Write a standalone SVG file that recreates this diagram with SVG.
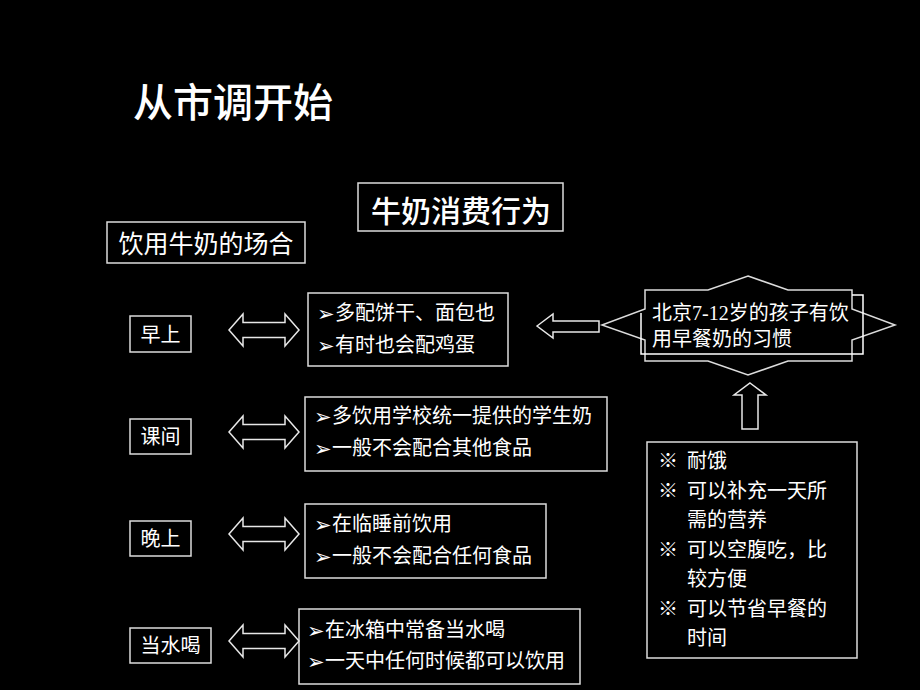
<svg xmlns="http://www.w3.org/2000/svg" width="920" height="690" viewBox="0 0 920 690">
<style>
.box{fill:none;stroke:#dcdcdc;stroke-width:1.5}
.arr{fill:none;stroke:#e8e8e8;stroke-width:1.5;stroke-linejoin:miter}
.t{fill:#ffffff;font-family:"Noto Sans CJK SC","Noto Sans",sans-serif;font-size:20px}
.tm{fill:#ffffff;font-family:"Liberation Serif","Noto Sans CJK SC",serif;font-size:20px}
.b{fill:#ffffff;font-family:"DejaVu Sans",sans-serif;font-size:21px}
</style>
<rect x="0" y="0" width="920" height="690" fill="#000000"/>
<g id="title"><text x="133" y="117" class="t" style="font-size:40px;font-weight:500">从市调开始</text></g>
<g id="header"><rect class="box" x="358" y="183" width="205" height="48"/><text x="461" y="222" class="t" text-anchor="middle" style="font-size:30px;font-weight:500">牛奶消费行为</text></g>
<g id="occasion"><rect class="box" x="107" y="222" width="198" height="41"/><text x="206" y="253" class="t" text-anchor="middle" style="font-size:25px">饮用牛奶的场合</text></g>

<g id="morning"><rect class="box" x="130" y="316" width="61" height="36"/><text x="160.5" y="342" class="t" text-anchor="middle">早上</text></g>
<g id="class"><rect class="box" x="130" y="419" width="61" height="35"/><text x="160.5" y="444" class="t" text-anchor="middle">课间</text></g>
<g id="evening"><rect class="box" x="130" y="521" width="61" height="35"/><text x="160.5" y="546" class="t" text-anchor="middle">晚上</text></g>
<g id="water"><rect class="box" x="130" y="628" width="81" height="35"/><text x="170.5" y="653" class="t" text-anchor="middle">当水喝</text></g>

<g id="morning-desc"><rect class="box" x="308" y="293" width="200" height="73"/>
<text x="317" y="321" class="b">➢</text><text x="335" y="320" class="t">多配饼干、面包也</text>
<text x="317" y="353" class="b">➢</text><text x="335" y="352" class="t">有时也会配鸡蛋</text></g>
<g id="class-desc"><rect class="box" x="305" y="397" width="302" height="74"/>
<text x="314" y="424" class="b">➢</text><text x="332" y="423" class="t">多饮用学校统一提供的学生奶</text>
<text x="314" y="456" class="b">➢</text><text x="332" y="455" class="t">一般不会配合其他食品</text></g>
<g id="evening-desc"><rect class="box" x="305" y="504" width="241" height="74"/>
<text x="314" y="532" class="b">➢</text><text x="332" y="531" class="t">在临睡前饮用</text>
<text x="314" y="564" class="b">➢</text><text x="332" y="563" class="t">一般不会配合任何食品</text></g>
<g id="water-desc"><rect class="box" x="299" y="609" width="281" height="75"/>
<text x="307" y="638" class="b">➢</text><text x="325" y="637" class="t">在冰箱中常备当水喝</text>
<text x="307" y="669" class="b">➢</text><text x="325" y="668" class="t">一天中任何时候都可以饮用</text></g>

<g id="habit">
<polygon class="box" points="748,276 788,290 852,290 852,309 895,325 852,340 852,361 788,361 748,375 708,361 645,361 645,340 602,325 645,309 645,290 708,290"/>
<path class="box" style="stroke:#ffffff" d="M641,313 L641,354 L863,354 L863,295 L852,295"/>
<text x="652" y="320" class="tm">北京7-12岁的孩子有饮</text>
<text x="652" y="346" class="t">用早餐奶的习惯</text>
</g>
<g id="reasons"><rect class="box" x="647" y="442" width="210" height="216"/>
<g class="t">
<text x="658" y="468">※</text><text x="687" y="468">耐饿</text>
<text x="658" y="498">※</text><text x="687" y="498">可以补充一天所</text>
<text x="687" y="527">需的营养</text>
<text x="658" y="557">※</text><text x="687" y="557">可以空腹吃，比</text>
<text x="687" y="586">较方便</text>
<text x="658" y="616">※</text><text x="687" y="616">可以节省早餐的</text>
<text x="687" y="645">时间</text>
</g></g>

<g id="connectors">
<path class="arr" d="M229,330 L243,314 L243,322.5 L285,322.5 L285,314 L299,330 L285,346 L285,337.5 L243,337.5 L243,346 Z"/>
<path class="arr" d="M229,432 L243,416 L243,424.5 L285,424.5 L285,416 L299,432 L285,448 L285,439.5 L243,439.5 L243,448 Z"/>
<path class="arr" d="M229,534 L243,518 L243,526.5 L285,526.5 L285,518 L299,534 L285,550 L285,541.5 L243,541.5 L243,550 Z"/>
<path class="arr" d="M229,641 L243,625 L243,633.5 L285,633.5 L285,625 L299,641 L285,657 L285,648.5 L243,648.5 L243,657 Z"/>
<path class="arr" d="M537,326 L553,314 L553,321 L599,321 L599,332 L553,332 L553,338 Z"/>
<path class="arr" d="M750,383 L766,395 L758,395 L758,429 L742,429 L742,395 L734,395 Z"/>
</g>
</svg>
